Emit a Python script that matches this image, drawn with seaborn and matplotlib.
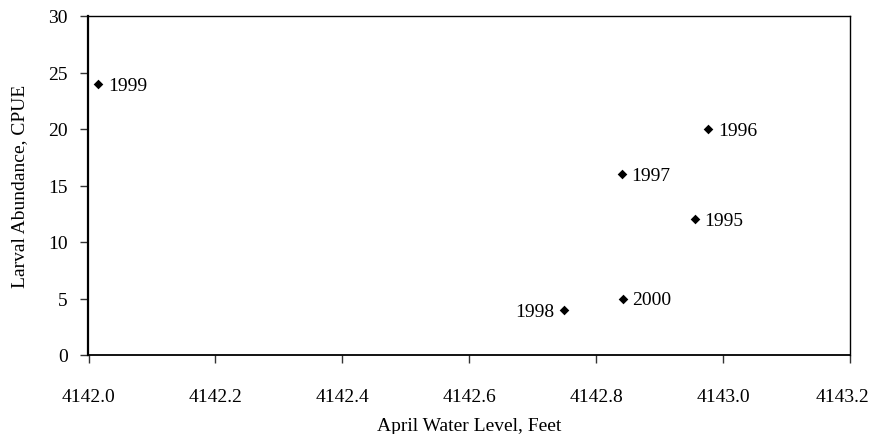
import matplotlib
matplotlib.use("Agg")
import matplotlib.pyplot as plt
import matplotlib.transforms as mtransforms
import seaborn as sns
import pandas as pd

years = ["1999", "1996", "1997", "1995", "2000", "1998"]
water_level = [4142.015, 4142.977, 4142.840, 4142.955, 4142.842, 4142.750]
abundance = [24, 20, 16, 12, 5, 4]
x_ticks = [4142.0, 4142.2, 4142.4, 4142.6, 4142.8, 4143.0, 4143.2]
x_tick_labels = ["4142.0", "4142.2", "4142.4", "4142.6", "4142.8", "4143.0", "4143.2"]
y_ticks = [0, 5, 10, 15, 20, 25, 30]

df = pd.DataFrame({"year": years, "level": water_level, "cpue": abundance})

sns.set_theme(style="white")
plt.rcParams["font.family"] = ["Liberation Serif", "DejaVu Serif"]

FS = 14

fig = plt.figure(figsize=(8.7, 4.35), dpi=100)
ax = fig.add_axes([88.5 / 870, 1 - 356 / 435, (850 - 88.5) / 870, (356 - 17) / 435])

sns.scatterplot(data=df, x="level", y="cpue", marker="D", color="black",
                s=24, edgecolor="black", linewidth=0, ax=ax, zorder=3)

for yr, x, y in zip(years, water_level, abundance):
    if yr == "1998":
        ax.annotate(yr, (x, y), xytext=(-7, -1), textcoords="offset points",
                    ha="right", va="center", fontsize=FS, color="black")
    else:
        ax.annotate(yr, (x, y), xytext=(7, -1), textcoords="offset points",
                    ha="left", va="center", fontsize=FS, color="black")

ax.set_xlim(4142.0, 4143.2)
ax.set_ylim(0, 30)
ax.set_xticks(x_ticks)
ax.set_xticklabels(x_tick_labels)
ax.set_yticks(y_ticks)

for s in ax.spines.values():
    s.set_color("black")
    s.set_linewidth(1.0)
ax.spines["left"].set_linewidth(1.6)
ax.spines["bottom"].set_linewidth(1.3)

ax.tick_params(axis="x", direction="out", length=6, width=1, color="#333333",
               pad=17.5, labelsize=FS, labelcolor="black", bottom=True, top=False)
ax.tick_params(axis="y", direction="out", length=6, width=1, color="#333333",
               pad=9, labelsize=FS, labelcolor="black", left=True, right=False)

# keep the last x tick label inside the figure, as in the reference
last = ax.get_xticklabels()[-1]
last.set_transform(last.get_transform() +
                   mtransforms.ScaledTranslation(-8 / 100, 0, fig.dpi_scale_trans))

ax.set_xlabel("April Water Level, Feet", fontsize=FS, color="black", labelpad=9)
ax.set_ylabel("Larval Abundance, CPUE", fontsize=FS, color="black", labelpad=14.5)
ax.grid(False)

fig.savefig("out.png", dpi=100, facecolor="white")
